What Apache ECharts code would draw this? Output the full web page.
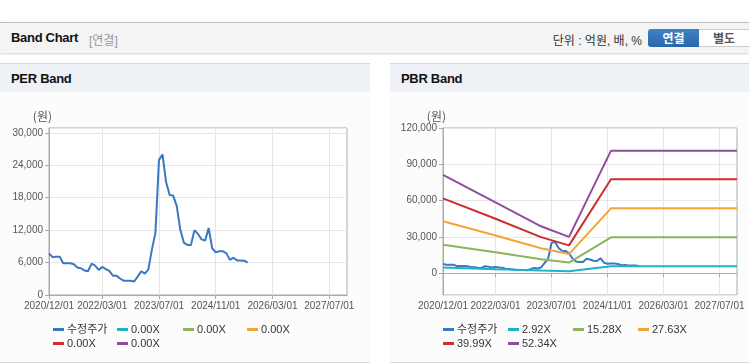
<!DOCTYPE html>
<html>
<head>
<meta charset="utf-8">
<script src="https://cdn.jsdelivr.net/npm/echarts@6/dist/echarts.min.js"></script>
<style>
html, body { margin: 0; padding: 0; width: 749px; height: 364px; overflow: hidden; background: #fff;
  font-family: "Liberation Sans", "Noto Sans CJK KR", sans-serif; }
#bar { position: absolute; left: 0; top: 22px; width: 749px; height: 30px; background: #f4f4f4;
  border-top: 1px solid #bcbcbc; box-shadow: 0 1px 2px rgba(0,0,0,0.18); }
#bar .title { position: absolute; left: 11px; top: 7px; font-size: 13px; font-weight: bold; color: #111; letter-spacing: -0.3px; }
#bar .sub { position: absolute; left: 89px; top: 8px; font-size: 12px; color: #999; }
#bar .unit { position: absolute; right: 107px; top: 8px; font-size: 12px; color: #333; }
#bar .btn { position: absolute; top: 6px; height: 18px; line-height: 18px; font-size: 12px; font-weight: bold; text-align: center;
  font-family: "Noto Sans CJK KR", sans-serif; }
#bar .on { left: 648px; width: 51px; color: #fff; background: linear-gradient(#3f82c6, #2a67a9); border-radius: 3px 0 0 3px; }
#bar .off { left: 699px; width: 50px; color: #555; background: #fff; border: 1px solid #ccc; border-left: none; height: 16px; line-height: 16px; }
.panel { position: absolute; top: 63px; height: 298px; background: #fcfcfc; border-top: 1px solid #d8d8d8; border-bottom: 1px solid #dcdcdc; }
.panel .head { height: 28px; background: #eef1f6; }
.panel .head span { position: absolute; left: 11px; top: 7px; font-size: 13px; font-weight: bold; color: #111; letter-spacing: -0.3px; }
#chart { position: absolute; left: 0; top: 0; width: 749px; height: 364px; }
</style>
</head>
<body>
<div id="bar">
  <span class="title">Band Chart</span>
  <span class="sub">[연결]</span>
  <span class="unit">단위 : 억원, 배, %</span>
  <span class="btn on">연결</span>
  <span class="btn off">별도</span>
</div>
<div class="panel" style="left:0;width:370px"><div class="head"><span>PER Band</span></div></div>
<div class="panel" style="left:390px;width:359px"><div class="head"><span>PBR Band</span></div></div>
<div id="chart"></div>
<script>
// monthly axis 2020/12 .. 2027/12
var startYear = 2020, startMonth = 12, monthCount = 85;
var tickLabels = ['2020/12/01', '2022/03/01', '2023/07/01', '2024/11/01', '2026/03/01', '2027/07/01'];

// 수정주가 (monthly, from 2020/12)
var price = [7700, 7000, 7100, 7100, 5870, 5870, 5870, 5700, 5100, 4950,
  4550, 4400, 5800, 5450, 4650, 5200, 4800, 4450, 3580, 3580,
  3050, 2650, 2650, 2650, 2500, 3400, 4400, 3950, 4700, 8400,
  11500, 25000, 26000, 20900, 18500, 18400, 16500, 12100, 9700, 9260,
  9260, 12000, 11300, 10300, 10060, 12400, 8650, 7900, 8100, 8100,
  7700, 6500, 6900, 6400, 6400, 6350, 6000];

// PER band multiples (all 0.00X, nothing drawn)
var perNames = ['0.00X', '0.00X', '0.00X', '0.00X', '0.00X'];

// PBR band lines, read at these months
var bandMonths = ['2020/12/01', '2022/03/01', '2023/04/01', '2023/12/01', '2024/12/01', '2027/12/01'];
var pbrNames = ['2.92X', '15.28X', '27.63X', '39.99X', '52.34X'];
var pbrBand1 = [4700, 3300, 2200, 1700, 5700, 5700];
var pbrBand2 = [23600, 17300, 11600, 8800, 29700, 29700];
var pbrBand3 = [43000, 31200, 20700, 15800, 53600, 53600];
var pbrBand4 = [61900, 45000, 29800, 23000, 77700, 77700];
var pbrBand5 = [81300, 58500, 38800, 30000, 101300, 101300];

var colors = ['#3a78c4', '#1eb2c6', '#8cb55b', '#f3a532', '#cf2e2e', '#8f4f9d'];

var months = [];
for (var i = 0; i < monthCount; i++) {
  var m = (startMonth - 1 + i) % 12 + 1;
  var y = startYear + Math.floor((startMonth - 1 + i) / 12);
  months.push(y + '/' + (m < 10 ? '0' + m : m) + '/01');
}

function pairs(vals) {
  var res = [];
  for (var i = 0; i < vals.length; i++) res.push([bandMonths[i], vals[i]]);
  return res;
}

var showTick = function (idx, val) { return tickLabels.indexOf(val) >= 0; };
var numFont = '"Liberation Sans", sans-serif';
var commas = function (v) { return echarts.format.addCommas(v); };

function xAxisFor(gi) {
  return {
    type: 'category', gridIndex: gi, data: months, boundaryGap: false,
    axisLine: { lineStyle: { color: '#aaa' } },
    axisTick: { show: true, length: 4, interval: showTick, lineStyle: { color: '#aaa' } },
    axisLabel: { interval: showTick, color: '#555', fontSize: 10, fontFamily: numFont, margin: 6,
      showMinLabel: true, hideOverlap: false },
    splitLine: { show: true, interval: showTick, lineStyle: { color: '#e6e6e6' } }
  };
}

function yAxisFor(gi, min, max, interval, labelOpt) {
  var label = { color: '#555', fontSize: 10, fontFamily: numFont, margin: 6, formatter: commas };
  for (var k in labelOpt) label[k] = labelOpt[k];
  return {
    type: 'value', gridIndex: gi, name: '(원)', nameGap: 6, min: min, max: max, interval: interval,
    nameTextStyle: { color: '#555', fontSize: 12, fontFamily: '"Noto Sans CJK KR", sans-serif', align: 'right', padding: [0, -3, 0, 0] },
    axisLine: { show: true, lineStyle: { color: '#aaa' } },
    axisTick: { show: true, length: 4, lineStyle: { color: '#aaa' } },
    axisLabel: label,
    splitLine: { lineStyle: { color: '#e6e6e6' } }
  };
}

// one legend per item so the columns line up like the original
function legendItem(left, top, name, label) {
  return {
    left: left, top: top, padding: 0, itemWidth: 11, itemHeight: 3, icon: 'rect',
    data: [name], formatter: label,
    textStyle: { color: '#333', fontSize: 11, padding: [0, 0, 0, -2],
      fontFamily: '"Liberation Sans", "Noto Sans CJK KR", sans-serif' }
  };
}

var series = [];
var legends = [];
var perCols = [53, 117, 183, 247];
var pbrCols = [443, 508, 573, 638];
var rowTops = [324, 338];

series.push({ name: 'per_price', type: 'line', xAxisIndex: 0, yAxisIndex: 0, data: price,
  symbol: 'none', lineStyle: { width: 2, color: colors[0] }, itemStyle: { color: colors[0] } });
legends.push(legendItem(perCols[0], rowTops[0], 'per_price', '수정주가'));
for (var j = 0; j < perNames.length; j++) {
  series.push({ name: 'per_' + j, type: 'line', xAxisIndex: 0, yAxisIndex: 0, data: [],
    symbol: 'none', lineStyle: { width: 2, color: colors[j + 1] }, itemStyle: { color: colors[j + 1] } });
  var pos = j + 1;
  legends.push(legendItem(perCols[pos % 4], rowTops[Math.floor(pos / 4)], 'per_' + j, perNames[j]));
}

series.push({ name: 'pbr_price', type: 'line', xAxisIndex: 1, yAxisIndex: 1, data: price,
  symbol: 'none', lineStyle: { width: 2, color: colors[0] }, itemStyle: { color: colors[0] } });
legends.push(legendItem(pbrCols[0], rowTops[0], 'pbr_price', '수정주가'));
var bands = [pbrBand1, pbrBand2, pbrBand3, pbrBand4, pbrBand5];
for (var b = 0; b < bands.length; b++) {
  series.push({ name: 'pbr_' + b, type: 'line', xAxisIndex: 1, yAxisIndex: 1, data: pairs(bands[b]),
    symbol: 'none', lineStyle: { width: 2, color: colors[b + 1] }, itemStyle: { color: colors[b + 1] } });
  var p2 = b + 1;
  legends.push(legendItem(pbrCols[p2 % 4], rowTops[Math.floor(p2 / 4)], 'pbr_' + b, pbrNames[b]));
}

var myChart = echarts.init(document.getElementById('chart'));
myChart.setOption({
  animation: false,
  grid: [
    { left: 49, top: 128, width: 298, height: 167, show: true, borderColor: '#aaa', backgroundColor: '#fff' },
    { left: 443, top: 128, width: 294, height: 167, show: true, borderColor: '#aaa', backgroundColor: '#fff' }
  ],
  xAxis: [xAxisFor(0), xAxisFor(1)],
  yAxis: [
    yAxisFor(0, 0, 30900, 6000, { showMaxLabel: false }),
    yAxisFor(1, -18000, 120000, null, { showMinLabel: false })
  ],
  legend: legends,
  series: series
});
</script>
</body>
</html>
